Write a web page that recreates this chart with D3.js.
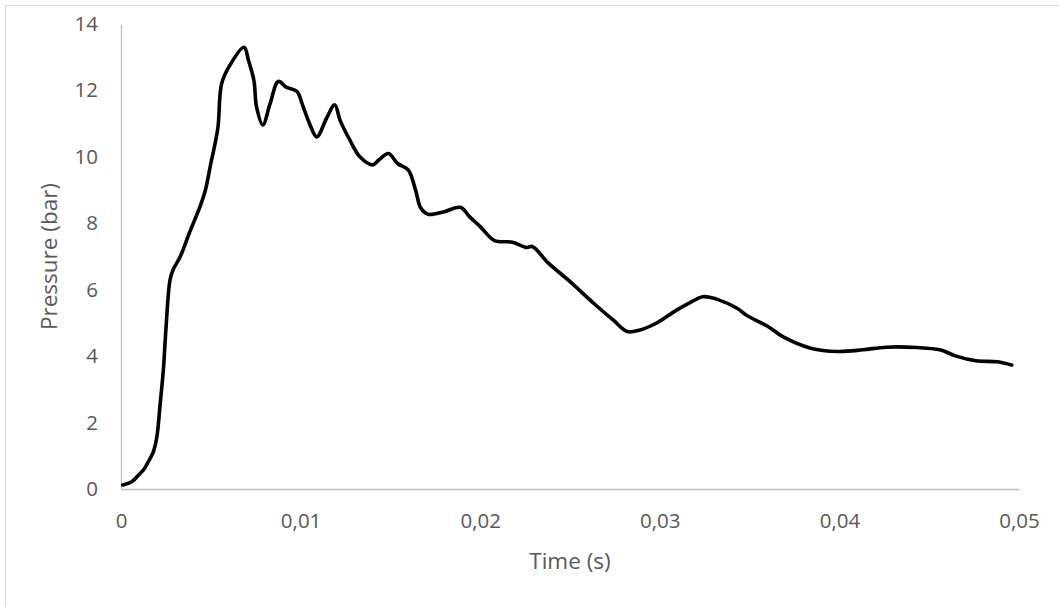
<!DOCTYPE html>
<html>
<head>
<meta charset="utf-8">
<script src="https://cdn.jsdelivr.net/npm/d3@7"></script>
<style>
  html, body { margin: 0; padding: 0; background: #fff; }
  svg { display: block; }
  text { font-family: "Open Sans", sans-serif; fill: #595959; }
</style>
</head>
<body>
<div id="chart"></div>
<script>
// time in seconds, pressure in bar
const timeValues = [
  0.0001, 0.0006, 0.00106, 0.00124, 0.0015, 0.0018, 0.002, 0.00217, 0.00236, 0.0025,
  0.00273, 0.0029, 0.0033, 0.0038, 0.0044, 0.0047, 0.005, 0.0052, 0.0054, 0.0056,
  0.006, 0.00685, 0.0071, 0.0074, 0.00755, 0.0079, 0.0083, 0.00876, 0.0092, 0.0098,
  0.0101, 0.0105, 0.0109, 0.01145, 0.0119, 0.0122, 0.01275, 0.0133, 0.014, 0.0144,
  0.0149, 0.0154, 0.016, 0.0164, 0.0167, 0.0171, 0.018, 0.0189, 0.0194, 0.02,
  0.0208, 0.0218, 0.0226, 0.0229, 0.0238, 0.0251, 0.0263, 0.0274, 0.0282, 0.0289,
  0.0298, 0.0308, 0.0317, 0.0324, 0.0332, 0.0343, 0.0348, 0.036, 0.0369, 0.0384,
  0.0399, 0.0413, 0.0426, 0.0443, 0.0456, 0.0465, 0.0476, 0.0488, 0.0496
];
const pressureValues = [
  0.12, 0.22, 0.47, 0.57, 0.8, 1.12, 1.58, 2.5, 3.6, 4.8,
  6.3, 6.6, 7.0, 7.7, 8.5, 9.0, 9.8, 10.3, 10.9, 12.2,
  12.7, 13.3, 12.9, 12.3, 11.5, 10.96, 11.6, 12.27, 12.1, 11.97,
  11.57, 11.0, 10.6, 11.17, 11.57, 11.1, 10.5, 10.0, 9.76, 9.93,
  10.1, 9.8, 9.6, 9.0, 8.45, 8.27, 8.35, 8.48, 8.2, 7.9,
  7.48, 7.43, 7.27, 7.3, 6.8, 6.2, 5.6, 5.09, 4.74, 4.79,
  4.99, 5.34, 5.62, 5.79, 5.71, 5.44, 5.24, 4.9, 4.57, 4.24,
  4.14, 4.19, 4.27, 4.26, 4.19, 4.0, 3.86, 3.83, 3.73
];
const xTicks = [0, 0.01, 0.02, 0.03, 0.04, 0.05];
const yTicks = [0, 2, 4, 6, 8, 10, 12, 14];
const xTitle = "Time (s)";
const yTitle = "Pressure (bar)";

const WIDTH = 1059, HEIGHT = 607;
const margin = { top: 24, right: 40, bottom: 118, left: 121 };

let svg = d3.select("#chart").append("svg")
  .attr("width", WIDTH)
  .attr("height", HEIGHT);

// outer chart border
svg.append("rect")
  .attr("x", 5.5).attr("y", 5.5)
  .attr("width", WIDTH).attr("height", HEIGHT)
  .attr("fill", "none")
  .attr("stroke", "#d9d9d9")
  .attr("stroke-width", 1);

let x = d3.scaleLinear()
  .domain([0, 0.05])
  .range([margin.left, WIDTH - margin.right]);
let y = d3.scaleLinear()
  .domain([0, 14])
  .range([HEIGHT - margin.bottom, margin.top]);

let fmt = (d) => d3.format("")(d).replace(".", ",");

// x axis, no tick marks
let xAxis = d3.axisBottom(x).tickValues(xTicks).tickSize(0).tickPadding(24).tickFormat(fmt);
let gx = svg.append("g")
  .attr("transform", "translate(0," + y(0) + ")")
  .call(xAxis);
gx.select(".domain").attr("stroke", "#bfbfbf").attr("stroke-width", 1.3);
gx.selectAll("text").attr("font-size", 20.5).attr("fill", "#595959")
  .attr("font-family", "Open Sans");

// y axis
let yAxis = d3.axisLeft(y).tickValues(yTicks).tickSize(0).tickPadding(23);
let gy = svg.append("g")
  .attr("transform", "translate(" + x(0) + ",0)")
  .call(yAxis);
gy.select(".domain").attr("stroke", "#bfbfbf").attr("stroke-width", 1.3);
gy.selectAll("text").attr("font-size", 20.5).attr("fill", "#595959")
  .attr("font-family", "Open Sans");

// axis titles
svg.append("text")
  .attr("x", (x(0) + x(0.05)) / 2)
  .attr("y", 569)
  .attr("text-anchor", "middle")
  .attr("font-size", 22.5)
  .text(xTitle);

svg.append("text")
  .attr("transform", "translate(57," + (y(0) + y(14)) / 2 + ") rotate(-90)")
  .attr("text-anchor", "middle")
  .attr("font-size", 22.5)
  .text(yTitle);

// the pressure curve
let points = timeValues.map((t, i) => [t, pressureValues[i]]);
let line = d3.line()
  .x((d) => x(d[0]))
  .y((d) => y(d[1]))
  .curve(d3.curveCatmullRom.alpha(0.5));

svg.append("path")
  .datum(points)
  .attr("d", line)
  .attr("fill", "none")
  .attr("stroke", "#000")
  .attr("stroke-width", 3.6)
  .attr("stroke-linejoin", "round")
  .attr("stroke-linecap", "round");
</script>
</body>
</html>
